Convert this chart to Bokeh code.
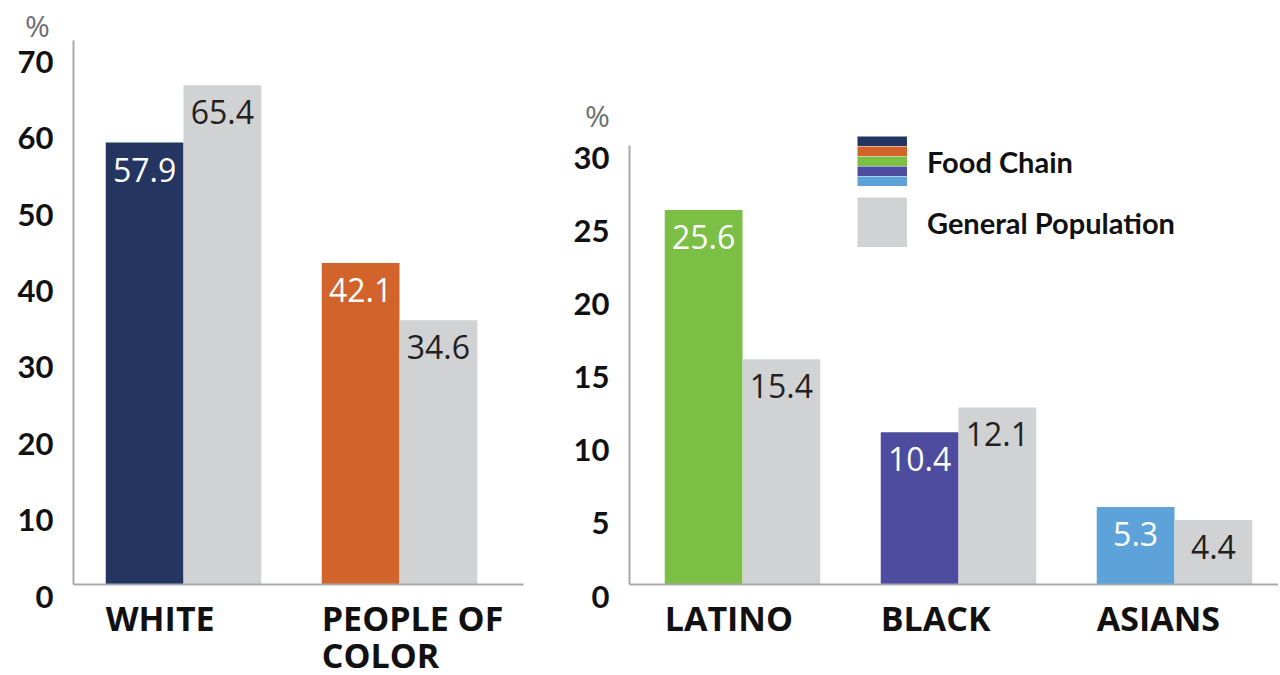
from bokeh.plotting import figure
from bokeh.models import (ColumnDataSource, Range1d, FixedTicker, LabelSet, Label,
                          Legend, LegendItem, LinearAxis)
from bokeh.layouts import row
from bokeh.embed import file_html
from bokeh.resources import INLINE
from bokeh.core.properties import value

# ---------------- data ----------------
left_categories = ["WHITE", "PEOPLE OF\nCOLOR"]
left_food_chain = [57.9, 42.1]
left_general = [65.4, 34.6]
left_colors = ["#253561", "#D2632A"]
left_ticks = [0, 10, 20, 30, 40, 50, 60, 70]

right_categories = ["LATINO", "BLACK", "ASIANS"]
right_food_chain = [25.6, 10.4, 5.3]
right_general = [15.4, 12.1, 4.4]
right_colors = ["#7BBF44", "#4E4C9F", "#5DA3D9"]
right_ticks = [0, 5, 10, 15, 20, 25, 30]

legend_labels = ["Food Chain", "General Population"]

# ---------------- style ----------------
GRAY = "#D1D2D4"
AXIS_GRAY = "#A7A9AC"
PCT_GRAY = "#6D6E71"
TEXT = "#111111"
BAR_W = 0.36
DODGE = 0.18
PX_X = 216.0          # pixels per category step
TICK_FONT = "Lato"
CAT_FONT = "Open Sans"
VAL_FONT = "Open Sans"
H = 672
BASE = 584            # pixel row of the zero line


def make_panel(categories, food, general, colors, ticks, axis_top,
               width, center1_px, axis_px, line_end_px, px_y, pct_dx, pct_dy):
    n = len(categories)
    pos = [i + 1 for i in range(n)]
    src = ColumnDataSource(dict(
        fc_x=[p - DODGE for p in pos],
        gp_x=[p + DODGE for p in pos],
        cat_x=[p - DODGE - BAR_W / 2 for p in pos],
        zero=[0] * n,
        food=food,
        general=general,
        color=colors,
        cat=categories,
        food_label=[f"{v:.1f}" for v in food],
        gen_label=[f"{v:.1f}" for v in general],
    ))

    x0 = 1 - center1_px / PX_X
    x1 = 1 + (width - center1_px) / PX_X
    y0 = -(H - BASE) / px_y
    y1 = BASE / px_y
    axis_x = 1 - (center1_px - axis_px) / PX_X
    line_end = 1 + (line_end_px - center1_px) / PX_X

    p = figure(width=width, height=H, output_backend="svg", toolbar_location=None,
               x_range=Range1d(x0, x1), y_range=Range1d(y0, y1),
               x_axis_type=None, y_axis_type=None, min_border=0)
    p.outline_line_color = None
    p.grid.visible = False
    p.background_fill_color = "white"
    p.border_fill_color = "white"

    p.vbar(x="fc_x", top="food", width=BAR_W, fill_color="color",
           line_color=None, source=src)
    gp = p.vbar(x="gp_x", top="general", width=BAR_W, fill_color=GRAY,
                line_color=None, source=src)

    # axes (lines only, placed at fixed positions)
    xaxis = LinearAxis(fixed_location=0, bounds=(axis_x, line_end),
                       ticker=FixedTicker(ticks=[]), axis_line_color=AXIS_GRAY,
                       axis_line_width=2, major_tick_line_color=None,
                       minor_tick_line_color=None)
    yaxis = LinearAxis(fixed_location=axis_x, bounds=(0, axis_top),
                       ticker=FixedTicker(ticks=[]), axis_line_color=AXIS_GRAY,
                       axis_line_width=2, major_tick_line_color=None,
                       minor_tick_line_color=None)
    p.add_layout(xaxis, "below")
    p.add_layout(yaxis, "left")

    # y tick labels
    tsrc = ColumnDataSource(dict(x=[axis_x] * len(ticks), y=ticks,
                                 t=[str(t) for t in ticks]))
    p.add_layout(LabelSet(x="x", y="y", text="t", source=tsrc,
                          text_align="right", text_baseline="middle",
                          x_offset=-20, y_offset=-12, text_color=TEXT,
                          text_font=value(TICK_FONT), text_font_style="bold",
                          text_font_size="31px"))

    # value labels
    p.add_layout(LabelSet(x="fc_x", y="food", text="food_label", source=src,
                          text_align="center", text_baseline="top", y_offset=-15,
                          text_color="white", text_font=value(VAL_FONT),
                          text_font_size="32px"))
    p.add_layout(LabelSet(x="gp_x", y="general", text="gen_label", source=src,
                          text_align="center", text_baseline="top", y_offset=-15,
                          text_color="#231F20", text_font=value(VAL_FONT),
                          text_font_size="32px"))

    # category labels
    p.add_layout(LabelSet(x="cat_x", y="zero", text="cat", source=src,
                          text_align="left", text_baseline="top", y_offset=-10,
                          text_color=TEXT, text_font=value(CAT_FONT),
                          text_font_style="bold", text_font_size="34px",
                          text_line_height=0.82))

    # percent sign
    p.add_layout(Label(x=axis_x, y=axis_top, text="%", x_offset=pct_dx, y_offset=pct_dy,
                       text_align="center", text_baseline="middle",
                       text_color=PCT_GRAY, text_font=VAL_FONT,
                       text_font_size="30px"))
    return p, src, gp


# left panel: page x 0..560 ; right panel: page x 560..1278
left, lsrc, _ = make_panel(left_categories, left_food_chain, left_general, left_colors,
                           left_ticks, 71.26, 560, 183, 73, 523, 442 / 57.9, -36, 15)

right, rsrc, rgp = make_panel(right_categories, right_food_chain, right_general,
                              right_colors, right_ticks, 30, 718, 182, 69, 718,
                              439 / 30, -32, 30)

# ---------------- legend ----------------
stripe_colors = left_colors + right_colors
stripe_renderers = [right.line(x="fc_x", y="food", line_color=c, line_width=10,
                               source=rsrc, visible=False)
                    for c in stripe_colors]
gray_line = right.line(x="gp_x", y="general", line_color=GRAY, line_width=50,
                       source=rsrc, visible=False)
blank = right.vbar(x="fc_x", top="food", width=BAR_W, fill_alpha=0, line_color=None,
                   source=rsrc, visible=False)

legend_main = Legend(items=[LegendItem(label=value(legend_labels[0]), renderers=[blank]),
                            LegendItem(label=value(legend_labels[1]),
                                       renderers=[rgp, gray_line])],
                     location=(297, H - 136 - 111), glyph_width=50, glyph_height=50,
                     label_height=50, spacing=11, padding=0, margin=0,
                     label_standoff=20, border_line_color=None,
                     background_fill_alpha=0, label_text_font=TICK_FONT,
                     label_text_font_style="bold", label_text_font_size="29px",
                     label_text_color=TEXT)
legend_stripes = Legend(items=[LegendItem(label=value(""), renderers=[r])
                               for r in stripe_renderers],
                        location=(297, H - 136 - 50), glyph_width=50, glyph_height=10,
                        label_height=10, spacing=0, padding=0, margin=0,
                        label_standoff=0, label_width=0, border_line_color=None,
                        background_fill_alpha=0, label_text_font_size="1px")
right.add_layout(legend_main)
right.add_layout(legend_stripes)

layout = row(left, right, spacing=0)
open("out.html", "w").write(file_html(layout, INLINE))
